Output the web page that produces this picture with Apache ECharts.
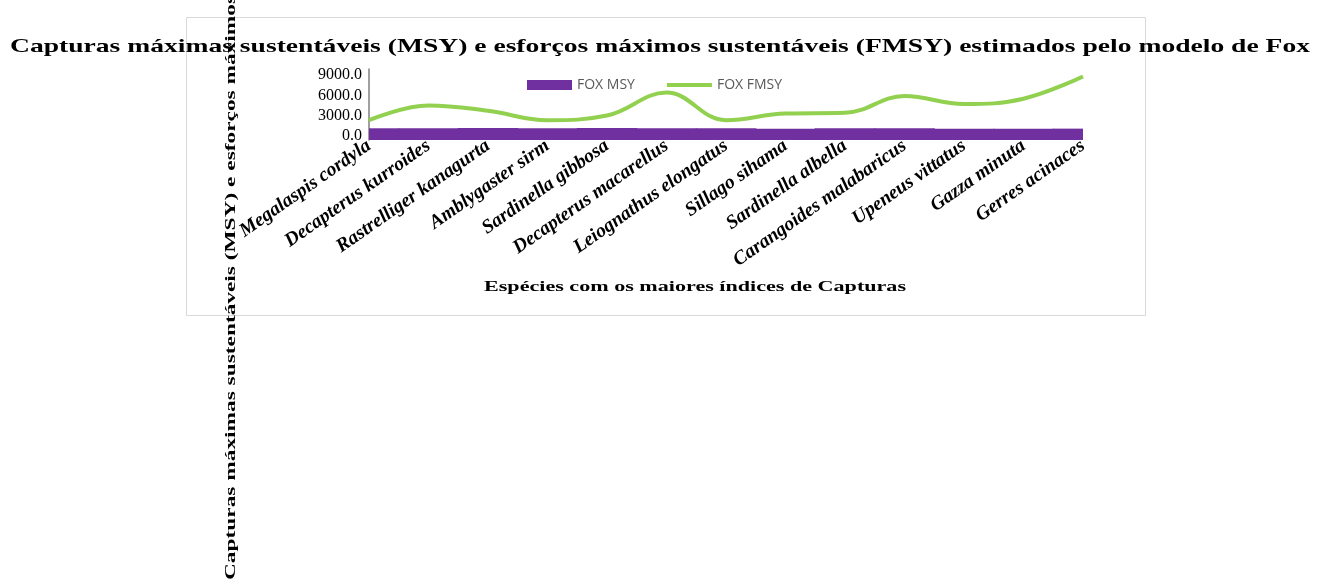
<!DOCTYPE html>
<html>
<head>
<meta charset="utf-8">
<script src="https://cdn.jsdelivr.net/npm/echarts@6/dist/echarts.min.js"></script>
<style>
html,body{margin:0;padding:0;background:#fff;}
#chart{width:1320px;height:581px;}
</style>
</head>
<body>
<div id="chart"></div>
<script>
// ---- data ----
const categories = [
  'Megalaspis cordyla', 'Decapterus kurroides', 'Rastrelliger kanagurta',
  'Amblygaster sirm', 'Sardinella gibbosa', 'Decapterus macarellus',
  'Leiognathus elongatus', 'Sillago sihama', 'Sardinella albella',
  'Carangoides malabaricus', 'Upeneus vittatus', 'Gazza minuta', 'Gerres acinaces'
];
const foxMSY  = [1100, 1100, 1150, 1100, 1150, 1100, 1100, 1050, 1100, 1100, 1050, 1050, 1050];
const foxFMSY = [2300, 4500, 3700, 2300, 3000, 6400, 2300, 3300, 3400, 5900, 4700, 5500, 8800];
const yTickValues = [0, 3000, 6000, 9000];
const seriesNames = ['FOX MSY', 'FOX FMSY'];
const titleText = 'Capturas máximas sustentáveis (MSY) e esforços máximos sustentáveis (FMSY) estimados pelo modelo de Fox';
const xAxisTitle = 'Espécies com os maiores índices de Capturas';
const yAxisTitle = 'Capturas máximas sustentáveis (MSY) e esforços máximos sustentáveis (FMSY)';
const yAxisTitleVisible = 'Capturas máximas sustentáveis (MSY) e esforços máximos';

// ---- layout / style ----
const Y_MIN = -640, Y_MAX = 9910;
const serif = '"Liberation Serif", "Times New Roman", serif';
const ctx = document.createElement('canvas').getContext('2d');
function textWidth(t, font) { ctx.font = font; return ctx.measureText(t).width; }

const titleFont = 'bold 19px ' + serif;
const titleScale = 1300 / textWidth(titleText, titleFont);
const xNameFont = 'bold 15px ' + serif;
const xNameScale = 422 / textWidth(xAxisTitle, xNameFont);
const yNameFont = 'bold 15px ' + serif;
const yNameScale = 585 / textWidth(yAxisTitleVisible, yNameFont);

const chart = echarts.init(document.getElementById('chart'));
chart.setOption({
  animation: false,
  backgroundColor: '#ffffff',
  graphic: [
    { type: 'rect', z: -10, silent: true,
      shape: { x: 186.5, y: 17.5, width: 959, height: 298 },
      style: { fill: '#ffffff', stroke: '#d9d9d9', lineWidth: 1 } },
    { type: 'text', x: 231, y: 580, rotation: Math.PI / 2, scaleX: yNameScale, z: 5,
      style: { text: yAxisTitle, font: yNameFont, fill: '#000',
               textAlign: 'left', textVerticalAlign: 'middle', align: 'left', verticalAlign: 'middle' } },
    { type: 'text', x: 660, y: 47, scaleX: titleScale, z: 6,
      style: { text: titleText, font: titleFont, fill: '#000',
               textAlign: 'center', textVerticalAlign: 'middle', align: 'center', verticalAlign: 'middle' } },
    { type: 'text', x: 695, y: 287, scaleX: xNameScale, z: 5,
      style: { text: xAxisTitle, font: xNameFont, fill: '#000',
               textAlign: 'center', textVerticalAlign: 'middle', align: 'center', verticalAlign: 'middle' } }
  ],
  legend: {
    left: 527, top: 78, padding: 0,
    itemWidth: 45, itemHeight: 10, itemGap: 32,
    textStyle: { fontFamily: '"Open Sans", sans-serif', fontSize: 14, color: '#595959' },
    data: [
      { name: seriesNames[0], icon: 'rect' },
      { name: seriesNames[1], icon: 'path://M0,0L45,0L45,4L0,4Z' }
    ]
  },
  grid: { left: 369, right: 237, top: 69, bottom: 441, containLabel: false },
  xAxis: {
    type: 'category', data: categories, boundaryGap: false,
    axisLine: { show: false }, axisTick: { show: false },
    axisLabel: {
      interval: 0, rotate: 35, margin: 4,
      fontFamily: serif, fontStyle: 'italic', fontWeight: 'bold', fontSize: 19.5, color: '#000'
    }
  },
  yAxis: {
    type: 'value', min: Y_MIN, max: Y_MAX,
    axisLine: { show: true, lineStyle: { color: '#808080', width: 1.5 } },
    axisTick: { show: false },
    splitLine: { show: false },
    axisLabel: {
      customValues: yTickValues, margin: 7, padding: [3, 0, 0, 0],
      formatter: v => v.toFixed(1),
      fontFamily: serif, fontSize: 16, color: '#000'
    }
  },
  series: [
    {
      name: seriesNames[0], type: 'custom', clip: true,
      itemStyle: { color: '#7030A0' },
      encode: { x: 0, y: 1 },
      data: foxMSY.map((v, i) => [i, v]),
      renderItem: function (params, api) {
        const top = api.coord([api.value(0), api.value(1)]);
        const bottom = api.coord([api.value(0), Y_MIN]);
        const bw = api.size([1, 0])[0];
        const cs = params.coordSys;
        const rect = echarts.graphic.clipRectByRect(
          { x: top[0] - bw / 2 - 0.5, y: top[1], width: bw + 1, height: bottom[1] - top[1] },
          { x: cs.x, y: cs.y, width: cs.width, height: cs.height });
        return rect && { type: 'rect', shape: rect, style: api.style() };
      },
      z: 2
    },
    {
      name: seriesNames[1], type: 'line', data: foxFMSY,
      smooth: 0.4, symbol: 'none', showSymbol: false,
      lineStyle: { color: '#92D050', width: 4 },
      itemStyle: { color: '#92D050' },
      z: 3
    }
  ]
});
</script>
</body>
</html>
